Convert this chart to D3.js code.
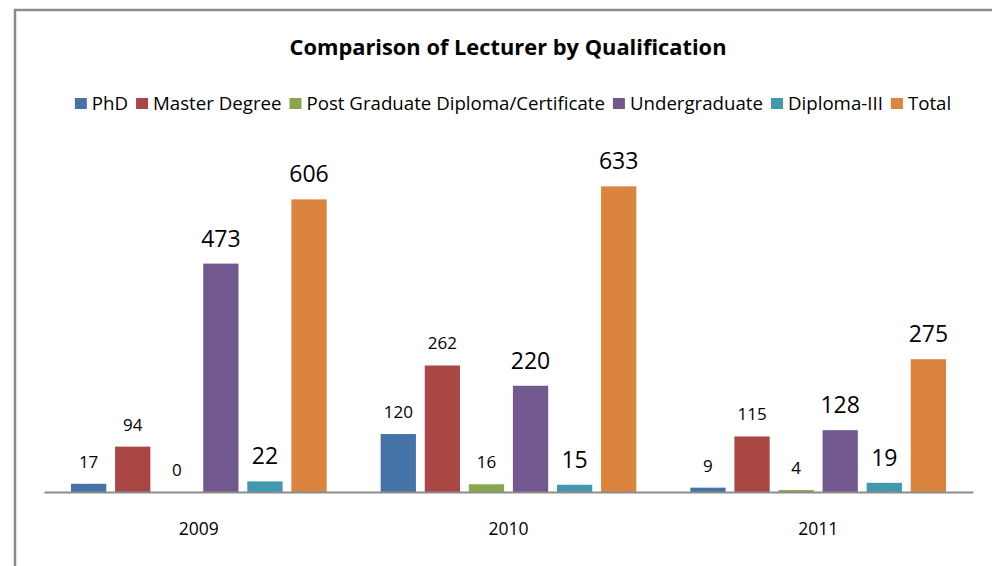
<!DOCTYPE html>
<html><head><meta charset="utf-8">
<script src="https://cdn.jsdelivr.net/npm/d3@7"></script>
<style>html,body{margin:0;padding:0;background:#fff;}svg{display:block;}</style>
</head><body>
<script>
const years = ["2009","2010","2011"];
const seriesNames = ["PhD","Master Degree","Post Graduate Diploma/Certificate","Undergraduate","Diploma-III","Total"];
const phd = [17,120,9];
const master = [94,262,115];
const postGrad = [0,16,4];
const undergrad = [473,220,128];
const diploma = [22,15,19];
const total = [606,633,275];
const seriesValues = [phd, master, postGrad, undergrad, diploma, total];

// style
const colors = ["#4572A7","#AA4643","#89A54E","#71588F","#4198AF","#DB843D"];
const bigLabels = new Set(["0-3","0-4","0-5","1-3","1-4","1-5","2-3","2-4","2-5"]);
const FONT = "'Open Sans', sans-serif";

function stretch(sel, f) {
  let out = 0;
  sel.each(function() {
    const w = this.getComputedTextLength();
    out = w * f;
    d3.select(this).attr("textLength", w * f).attr("lengthAdjust", "spacingAndGlyphs");
  });
  return out;
}

const W = 992, H = 566;
const svg = d3.select("body").append("svg").attr("width", W).attr("height", H);

// border
svg.append("path").attr("d", `M15,${H} L15,10 L${W},10`).attr("fill","none")
  .attr("stroke","#8c8c8c").attr("stroke-width",2.5);

const plot = {left:44, right:973, top:154, bottom:492};
const y = d3.scaleLinear().domain([0,700]).range([plot.bottom, plot.top]);
const x0 = d3.scaleBand().domain(years).range([plot.left, plot.right]);
const x1 = d3.scaleBand().domain(d3.range(seriesNames.length))
  .range([27, x0.bandwidth()-27]).paddingInner(0.2);

const data = [];
years.forEach((yr, i) => seriesNames.forEach((s, j) => data.push({yr, i, j, v: seriesValues[j][i]})));

svg.append("g").selectAll("rect").data(data).join("rect")
  .attr("x", d => x0(d.yr) + x1(d.j))
  .attr("y", d => y(d.v))
  .attr("width", x1.bandwidth())
  .attr("height", d => plot.bottom - y(d.v))
  .attr("fill", d => colors[d.j]);

svg.append("g").selectAll("text").data(data).join("text")
  .attr("x", d => x0(d.yr) + x1(d.j) + x1.bandwidth()/2)
  .attr("y", d => y(d.v) - (bigLabels.has(d.i+"-"+d.j) ? 17 : 16))
  .attr("text-anchor","middle")
  .attr("font-family", FONT)
  .attr("font-size", d => bigLabels.has(d.i+"-"+d.j) ? 23 : 17)
  .attr("fill","#000")
  .text(d => d.v);

// axis
const xAxis = d3.axisBottom(x0).tickSize(0).tickPadding(31);
const ax = svg.append("g").attr("transform", `translate(0,${plot.bottom})`).call(xAxis);
ax.select(".domain").attr("stroke","#8c8c8c").attr("stroke-width",2);
ax.selectAll("text").attr("font-family", FONT).attr("font-size",17.5).attr("fill","#000");

// title
const title = svg.append("text").attr("x",508).attr("y",55).attr("text-anchor","middle")
  .attr("font-family",FONT).attr("font-weight","bold").attr("font-size",21)
  .text("Comparison of Lecturer by Qualification");
stretch(title, 1.04);

// legend
const lg = svg.append("g");
let cx = 0;
seriesNames.forEach((n, j) => {
  const g = lg.append("g").attr("transform", `translate(${cx},0)`);
  g.append("rect").attr("x",0).attr("y",-12).attr("width",12).attr("height",11).attr("fill",colors[j]);
  const t = g.append("text").attr("x",17).attr("y",0).attr("font-family",FONT).attr("font-size",17.3).text(n);
  const tw = stretch(t, 1.08);
  cx += 17 + tw + 8;
});
const lw = cx - 8;
lg.attr("transform", `translate(${513 - lw/2},110)`);
</script>
</body></html>
